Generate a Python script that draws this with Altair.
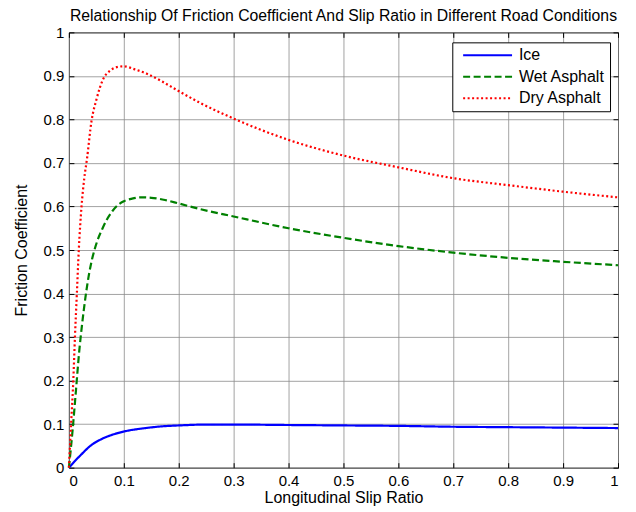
import altair as alt
import pandas as pd

# ---- data ----
slip_ice = [0, 0.01, 0.02, 0.04, 0.06, 0.08, 0.1, 0.14, 0.17, 0.2, 0.25, 0.3,
            0.4, 0.5, 0.6, 0.7, 0.8, 0.9, 1.0]
mu_ice = [0, 0.014, 0.027, 0.051, 0.066, 0.076, 0.083, 0.091, 0.095, 0.097, 0.099, 0.099,
          0.098, 0.097, 0.096, 0.094, 0.093, 0.092, 0.091]

slip_wet = [0, 0.007, 0.013, 0.019, 0.025, 0.03, 0.036, 0.042, 0.0465, 0.0515, 0.061,
            0.07, 0.079, 0.088, 0.1, 0.115, 0.13, 0.15, 0.175, 0.2, 0.239, 0.3,
            0.4, 0.5, 0.6, 0.7, 0.8, 0.9, 1.0]
mu_wet = [0, 0.09, 0.18, 0.27, 0.34, 0.39, 0.44, 0.478, 0.5, 0.52, 0.549,
          0.572, 0.589, 0.602, 0.612, 0.618, 0.621, 0.62, 0.615, 0.607, 0.594, 0.577,
          0.55, 0.528, 0.509, 0.494, 0.482, 0.473, 0.465]

slip_dry = [0, 0.004, 0.008, 0.011, 0.0145, 0.018, 0.023, 0.028, 0.033, 0.041, 0.05,
            0.0625, 0.075, 0.087, 0.1, 0.12, 0.142, 0.17, 0.196, 0.239, 0.3,
            0.4, 0.5, 0.6, 0.7, 0.8, 0.9, 1.0]
mu_dry = [0, 0.1, 0.2, 0.3, 0.4, 0.5, 0.6, 0.665, 0.71, 0.795, 0.845,
          0.893, 0.912, 0.92, 0.922, 0.915, 0.905, 0.887, 0.868, 0.838, 0.802,
          0.753, 0.717, 0.69, 0.665, 0.649, 0.634, 0.621]

roads = ["Ice", "Wet Asphalt", "Dry Asphalt"]
colors = ["#0000FF", "#008000", "#FF0000"]
dashes = [[1, 0], [7, 3.5], [2, 2.5]]
tick_values = [0, 0.1, 0.2, 0.3, 0.4, 0.5, 0.6, 0.7, 0.8, 0.9, 1]

rows = []
for name, xs, ys in [("Ice", slip_ice, mu_ice), ("Wet Asphalt", slip_wet, mu_wet),
                     ("Dry Asphalt", slip_dry, mu_dry)]:
    for s, m in zip(xs, ys):
        rows.append({"slip": s, "mu": m, "road": name})
df = pd.DataFrame(rows)

FONT = "Liberation Sans"
xscale = alt.Scale(domain=[0, 1], nice=False, zero=False)
yscale = alt.Scale(domain=[0, 1], nice=False, zero=False)

legend = alt.Legend(
    title=None, orient="none", legendX=384, legendY=10,
    symbolType="M-0.347,0H7.653", symbolSize=150, symbolStrokeWidth=2,
    labelFont=FONT, labelFontSize=16, labelColor="black", labelOffset=45.75,
    strokeColor="black", fillColor="white", padding=5, rowPadding=5.5,
)

lines = alt.Chart(df).mark_line(strokeWidth=2.2, interpolate="monotone").encode(
    x=alt.X("slip:Q", scale=xscale,
            axis=alt.Axis(values=tick_values, format=".1~f", title="Longitudinal Slip Ratio",
                          grid=True, offset=-5, tickSize=5, domain=False, labelPadding=6,
                          titlePadding=1)),
    y=alt.Y("mu:Q", scale=yscale,
            axis=alt.Axis(values=tick_values, format=".1~f", title="Friction Coefficient",
                          grid=True, offset=-5, tickSize=5, domain=False, labelPadding=5,
                          titlePadding=14)),
    color=alt.Color("road:N", scale=alt.Scale(domain=roads, range=colors), sort=roads,
                    legend=legend),
    strokeDash=alt.StrokeDash("road:N", scale=alt.Scale(domain=roads, range=dashes),
                              sort=roads, legend=legend),
    order=alt.Order("slip:Q"),
)

frame_ticks = alt.Chart(df).mark_point(opacity=0).encode(
    x=alt.X("slip:Q", scale=xscale,
            axis=alt.Axis(orient="top", values=tick_values, labels=False, title=None,
                          grid=False, domain=False, offset=-5, tickSize=5)),
    y=alt.Y("mu:Q", scale=yscale,
            axis=alt.Axis(orient="right", values=tick_values, labels=False, title=None,
                          grid=False, domain=False, offset=-5, tickSize=5)),
)

chart = alt.layer(lines, frame_ticks).resolve_axis(x="independent", y="independent").properties(
    width=550, height=436,
    autosize=alt.AutoSizeParams(type="none"),
    padding={"left": 61, "top": 24, "right": 10, "bottom": 44},
    title=alt.TitleParams(
        "Relationship Of Friction Coefficient And Slip Ratio in Different Road Conditions",
        font=FONT, fontSize=15.8, fontWeight="normal", color="black", anchor="middle", offset=1,
    ),
    background="white",
).configure_view(stroke="black", strokeWidth=1).configure_axis(
    labelFont=FONT, labelFontSize=15, labelColor="black",
    titleFont=FONT, titleFontSize=16, titleFontWeight="normal", titleColor="black",
    tickColor="black", tickWidth=1, gridColor="#8c8c8c", gridWidth=1, gridOpacity=0.8,
)

chart.save("out.html", embed_options={"renderer": "svg", "actions": False})
